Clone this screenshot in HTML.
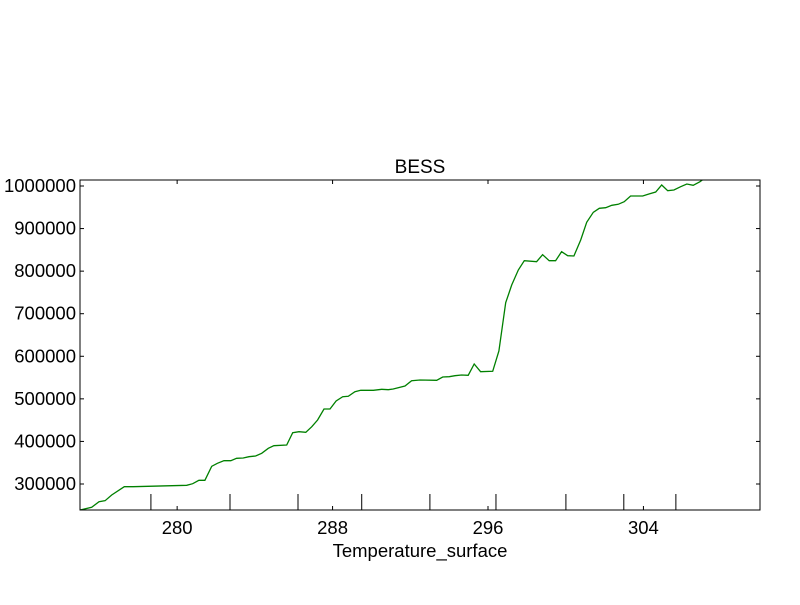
<!DOCTYPE html>
<html><head><meta charset="utf-8"><style>
body{margin:0;background:#fff;}
svg text{font-family:"Liberation Sans",sans-serif;fill:#000;}
</style></head><body>
<svg id="chart" width="800" height="600" xmlns="http://www.w3.org/2000/svg">
<defs><clipPath id="plotclip"><rect x="80" y="180" width="680" height="330"/></clipPath></defs>
<rect width="800" height="600" fill="#fff"/>
<text x="420" y="173" font-size="19" text-anchor="middle">BESS</text>
<g id="axes"></g>
<path id="line" fill="none" stroke="#008000" stroke-width="1.3" clip-path="url(#plotclip)"/>
<rect x="80" y="180" width="680" height="330" fill="none" stroke="#000" stroke-width="1"/>
<text x="420" y="557" font-size="18.5" text-anchor="middle">Temperature_surface</text>
</svg>
<script>
const temps=[275.00,275.60,275.98,276.29,276.63,277.28,277.74,280.49,280.80,281.12,281.43,281.78,282.07,282.41,282.76,283.06,283.40,283.70,284.04,284.35,284.69,284.98,285.64,285.95,286.27,286.62,286.93,287.23,287.56,287.87,288.18,288.52,288.81,289.15,289.45,290.10,290.53,290.87,291.12,291.73,292.07,292.50,293.36,293.67,294.01,294.30,294.64,294.98,295.29,295.62,296.24,296.56,296.91,297.22,297.56,297.87,298.50,298.81,299.15,299.48,299.79,300.10,300.42,300.77,301.08,301.42,301.73,302.06,302.37,302.70,303.01,303.34,303.96,304.28,304.63,304.94,305.25,305.57,305.92,306.23,306.56,306.91,307.50];
const values=[238900,245300,258400,260800,274200,293700,293700,296900,300700,308700,308700,341600,348600,354700,354700,360400,361100,364100,365800,372100,383900,390000,391600,420500,422900,421400,434600,450300,476200,476200,495000,505100,506000,516800,520100,520100,522500,521500,523200,530200,542700,544300,543600,551300,552000,554400,556000,555300,581900,563800,564700,612400,725900,767500,802700,824500,822200,838700,824500,824500,845700,836300,835600,873200,914700,938200,947600,949000,954700,957000,963100,976500,976500,981200,985900,1002400,989000,990600,998300,1004700,1001600,1010100,1030000];
const xTicks=[280,288,296,304];
const yTicks=[300000,400000,500000,600000,700000,800000,900000,1000000];
const deciles=[278.65,282.72,286.22,289.50,293.01,296.41,300.01,302.99,305.67];

const X0=80,X1=760,Y0=510,Y1=180;
const xMin=275,xMax=310,yMin=238900,yMax=1014100;
const xs=v=>X0+(v-xMin)/(xMax-xMin)*(X1-X0);
const ys=v=>Y0-(v-yMin)/(yMax-yMin)*(Y0-Y1);
const NS="http://www.w3.org/2000/svg";
const axes=document.getElementById('axes');
function ln(x1,y1,x2,y2){const l=document.createElementNS(NS,'line');l.setAttribute('x1',x1);l.setAttribute('y1',y1);l.setAttribute('x2',x2);l.setAttribute('y2',y2);l.setAttribute('stroke','#000');l.setAttribute('stroke-width','1');axes.appendChild(l);return l;}
function tx(x,y,s,anchor){const t=document.createElementNS(NS,'text');t.setAttribute('x',x);t.setAttribute('y',y);t.setAttribute('font-size','18.5');t.setAttribute('text-anchor',anchor);t.textContent=s;axes.appendChild(t);return t;}
yTicks.forEach(v=>{const y=ys(v);
 const a=ln(X0,y,X0+4,y);
 
 
 const b=ln(X1-4,y,X1,y);
 
 
 const t=tx(X0-4,y+6,String(v),'end');
 
 
});
xTicks.forEach(v=>{const x=xs(v);
 const a=ln(x,Y0,x,Y0-4);
 
 
 const b=ln(x,Y1,x,Y1+4);
 
 
 const t=tx(x,Y0+24,String(v),'middle');
 
 
});
deciles.forEach(v=>{const x=xs(v);
 const a=ln(x,Y0,x,Y0-16);
 
 
});
document.getElementById('line').setAttribute('d',temps.map((t,i)=>(i?'L':'M')+xs(t).toFixed(1)+','+ys(values[i]).toFixed(1)).join(''));
</script>
</body></html>
